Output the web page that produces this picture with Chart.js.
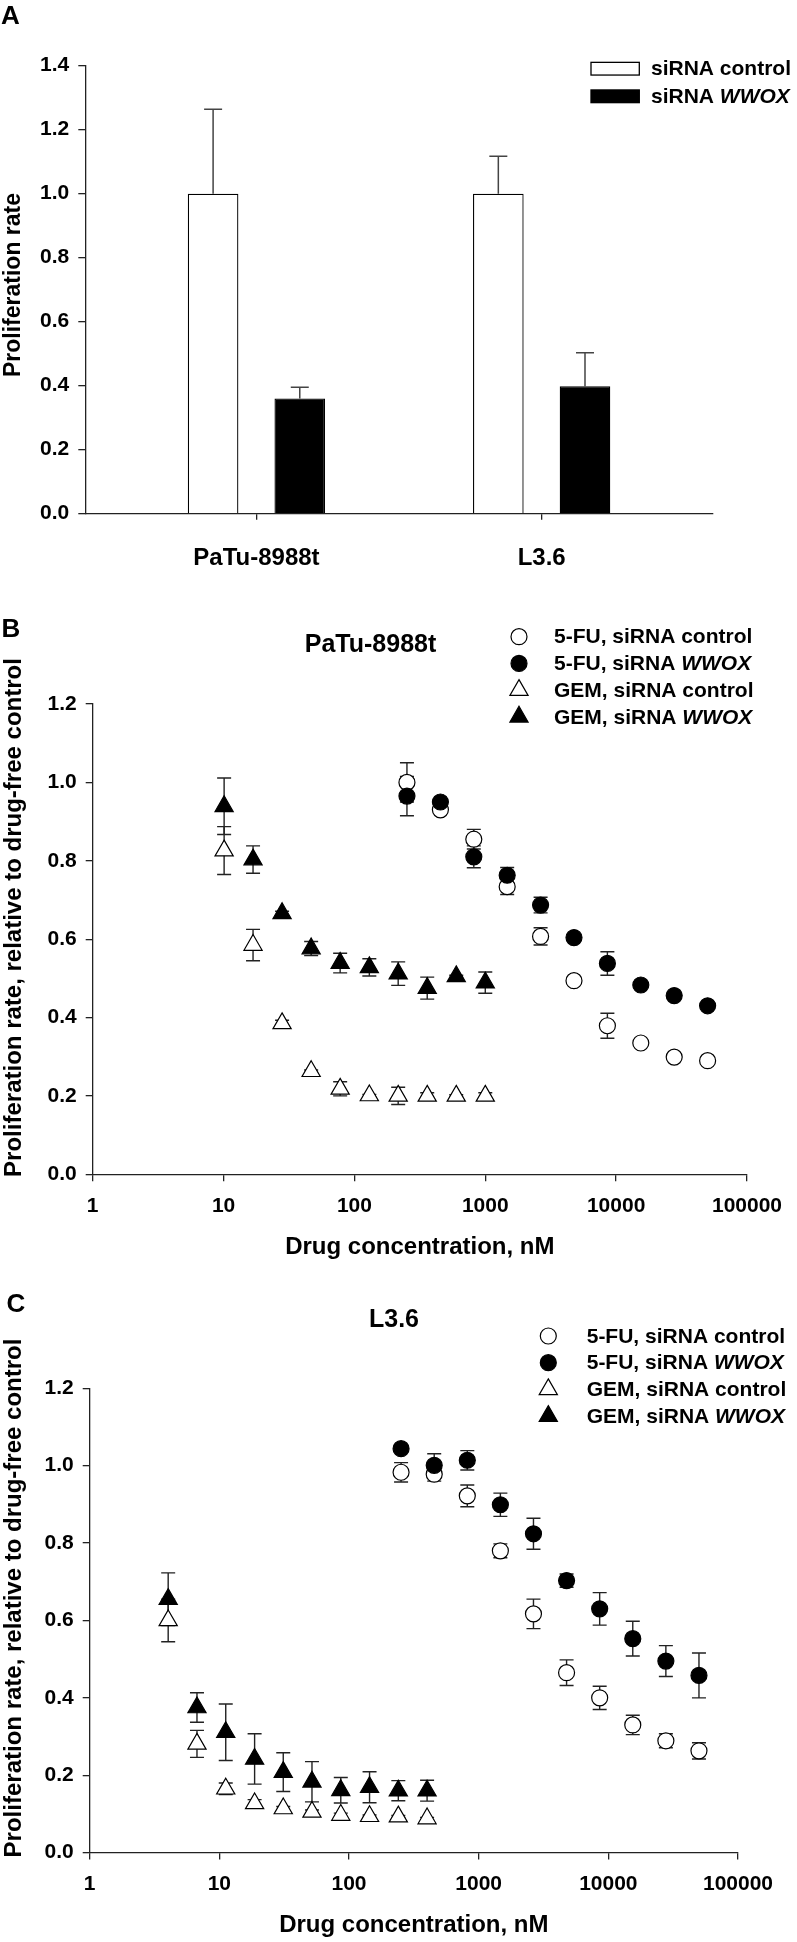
<!DOCTYPE html>
<html>
<head>
<meta charset="utf-8">
<script src="https://cdn.jsdelivr.net/npm/chart.js@4.4.1/dist/chart.umd.min.js"></script>
<style>
	body { margin: 0; background: #fff; width: 797px; height: 1942px; position: relative; overflow: hidden; }
	canvas { position: absolute; left: 0; }
</style>
</head>
<body>
<canvas id="chart-a" width="797" height="575" style="top:0px"></canvas>
<canvas id="chart-b" width="797" height="690" style="top:575px"></canvas>
<canvas id="chart-c" width="797" height="677" style="top:1265px"></canvas>
<script>
// ---- panel A: proliferation rate (bars) ----
const a_categories = ['PaTu-8988t', 'L3.6'];
const a_labels = ['siRNA control', 'siRNA WWOX'];
const a_control = [1.0, 1.0];
const a_control_err = [0.264, 0.117];
const a_wwox = [0.36, 0.398];
const a_wwox_err = [0.035, 0.105];
const a_y_ticks = [0, 0.2, 0.4, 0.6, 0.8, 1.0, 1.2, 1.4];

// ---- panel B: PaTu-8988t dose response ----
const b_fu_conc = [252, 454, 817, 1470, 2646, 4763, 8573, 15432, 27778, 50000];
const b_fu_control = [1.00, 0.93, 0.855, 0.734, 0.607, 0.494, 0.379, 0.335, 0.299, 0.29];
const b_fu_control_err = [0.05, 0.008, 0.025, 0.02, 0.022, 0.005, 0.032, 0.005, 0.005, 0.005];
const b_fu_wwox = [0.965, 0.95, 0.81, 0.763, 0.687, 0.604, 0.538, 0.483, 0.456, 0.43];
const b_fu_wwox_err = [0.05, 0.008, 0.028, 0.02, 0.02, 0.008, 0.03, 0.005, 0.005, 0.005];
const b_gem_conc = [10.1, 16.8, 28, 46.7, 77.8, 130, 216, 360, 600, 1000];
const b_gem_control = [0.826, 0.585, 0.385, 0.263, 0.218, 0.201, 0.2, 0.2, 0.2, 0.2];
const b_gem_control_err = [0.061, 0.04, 0.008, 0.003, 0.018, 0.003, 0.022, 0.008, 0.003, 0.008];
const b_gem_wwox = [0.939, 0.803, 0.666, 0.576, 0.539, 0.528, 0.512, 0.475, 0.505, 0.489];
const b_gem_wwox_err = [0.072, 0.035, 0.005, 0.018, 0.025, 0.022, 0.03, 0.028, 0.003, 0.027];

// ---- panel C: L3.6 dose response ----
const c_fu_conc = [252, 454, 817, 1470, 2646, 4763, 8573, 15432, 27778, 50000];
const c_fu_control = [0.983, 0.978, 0.922, 0.78, 0.617, 0.465, 0.40, 0.33, 0.289, 0.263];
const c_fu_control_err = [0.025, 0.018, 0.028, 0.018, 0.038, 0.033, 0.03, 0.025, 0.018, 0.021];
const c_fu_wwox = [1.044, 1.001, 1.014, 0.899, 0.824, 0.703, 0.63, 0.553, 0.495, 0.458];
const c_fu_wwox_err = [0.008, 0.03, 0.025, 0.03, 0.04, 0.017, 0.042, 0.045, 0.04, 0.058];
const c_gem_conc = [4.03, 6.72, 11.2, 18.7, 31.1, 51.8, 86.4, 144, 240, 400];
const c_gem_control = [0.60, 0.281, 0.165, 0.127, 0.114, 0.105, 0.097, 0.094, 0.093, 0.088];
const c_gem_control_err = [0.055, 0.035, 0.015, 0.01, 0.005, 0.005, 0.005, 0.003, 0.003, 0.003];
const c_gem_wwox = [0.655, 0.375, 0.311, 0.242, 0.208, 0.183, 0.161, 0.169, 0.16, 0.16];
const c_gem_wwox_err = [0.068, 0.038, 0.073, 0.065, 0.05, 0.052, 0.033, 0.04, 0.026, 0.027];

const dose_labels = ['5-FU, siRNA control', '5-FU, siRNA WWOX', 'GEM, siRNA control', 'GEM, siRNA WWOX'];
const dose_y_ticks = [0, 0.2, 0.4, 0.6, 0.8, 1.0, 1.2];
const dose_x_ticks = [1, 10, 100, 1000, 10000, 100000];

const FAMILY = "'Liberation Sans', Arial, Helvetica, sans-serif";
const AXIS = '#222';
Chart.defaults.font.family = FAMILY;
Chart.defaults.color = '#000';

function pts(xs, ys) {
	return xs.map((x, i) => ({ x: x, y: ys[i] }));
}

// draw a label, setting the gene name in italics
function drawRich(ctx, text, x, y, size) {
	const parts = text.split(/(WWOX)/);
	let cx = x;
	parts.forEach(p => {
		if (!p) return;
		ctx.font = (p === 'WWOX' ? 'italic ' : '') + 'bold ' + size + 'px ' + FAMILY;
		ctx.fillText(p, cx, y);
		cx += ctx.measureText(p).width;
	});
}

const errorBars = {
	id: 'errorBars',
	beforeDatasetsDraw(chart, args, opts) {
		const ctx = chart.ctx;
		const yScale = chart.scales.y;
		ctx.save();
		ctx.strokeStyle = opts.color || '#333';
		ctx.lineWidth = opts.width || 1.3;
		const half = (opts.cap || 14) / 2;
		chart.data.datasets.forEach((ds, i) => {
			if (!ds.errors) return;
			const meta = chart.getDatasetMeta(i);
			meta.data.forEach((el, j) => {
				const v = ds.data[j].y;
				const e = ds.errors[j];
				const top = yScale.getPixelForValue(v + e);
				const bottom = yScale.getPixelForValue(opts.upOnly ? v : v - e);
				ctx.beginPath();
				ctx.moveTo(el.x, top);
				ctx.lineTo(el.x, bottom);
				ctx.moveTo(el.x - half, top);
				ctx.lineTo(el.x + half, top);
				if (!opts.upOnly) {
					ctx.moveTo(el.x - half, bottom);
					ctx.lineTo(el.x + half, bottom);
				}
				ctx.stroke();
			});
		});
		ctx.restore();
	}
};

const panelText = {
	id: 'panelText',
	afterDraw(chart, args, opts) {
		const ctx = chart.ctx;
		(opts.items || []).forEach(it => {
			ctx.save();
			ctx.translate(it.x, it.y);
			if (it.rotate) ctx.rotate(it.rotate);
			ctx.font = 'bold ' + it.size + 'px ' + FAMILY;
			ctx.fillStyle = '#000';
			ctx.textAlign = it.align || 'center';
			ctx.textBaseline = it.baseline || 'middle';
			ctx.fillText(it.text, 0, 0);
			ctx.restore();
		});
	}
};

const sideLegend = {
	id: 'sideLegend',
	afterDraw(chart, args, opts) {
		const ctx = chart.ctx;
		chart.data.datasets.forEach((ds, i) => {
			const y = opts.y + i * opts.gap;
			ctx.save();
			ctx.fillStyle = ds.backgroundColor;
			ctx.strokeStyle = ds.borderColor;
			ctx.lineWidth = ds.borderWidth;
			if (opts.box) {
				ctx.fillRect(opts.markerX, y - opts.box[1] / 2, opts.box[0], opts.box[1]);
				ctx.strokeRect(opts.markerX, y - opts.box[1] / 2, opts.box[0], opts.box[1]);
			} else {
				Chart.helpers.drawPoint(ctx, {
					pointStyle: ds.pointStyle,
					radius: ds.pointRadius,
					borderWidth: ds.borderWidth,
					rotation: 0
				}, opts.markerX, y);
			}
			ctx.fillStyle = '#000';
			ctx.textAlign = 'left';
			ctx.textBaseline = 'middle';
			drawRich(ctx, ds.label, opts.textX, y + 1, opts.size);
			ctx.restore();
		});
	}
};

function yAxis(ticks, width) {
	return {
		min: 0,
		max: ticks[ticks.length - 1],
		afterBuildTicks: axis => { axis.ticks = ticks.map(v => ({ value: v })); },
		afterFit: s => { s.width = width; },
		ticks: {
			callback: v => v.toFixed(1),
			font: { size: 21, weight: 'bold' },
			color: '#000',
			padding: 9
		},
		grid: { drawOnChartArea: false, tickLength: 7, color: AXIS, tickColor: AXIS, lineWidth: 1.3 },
		border: { color: AXIS, width: 1.3 }
	};
}

// ---------- Panel A ----------
new Chart(document.getElementById('chart-a'), {
	type: 'bar',
	data: {
		datasets: [
			{
				label: a_labels[0],
				data: a_control.map((v, i) => ({ x: i, y: v })),
				errors: a_control_err,
				backgroundColor: '#fff',
				borderColor: '#000',
				borderWidth: 1.3
			},
			{
				label: a_labels[1],
				data: a_wwox.map((v, i) => ({ x: i, y: v })),
				errors: a_wwox_err,
				backgroundColor: '#000',
				borderColor: '#000',
				borderWidth: 1.3
			}
		]
	},
	options: {
		responsive: false,
		animation: false,
		devicePixelRatio: 1,
		categoryPercentage: 0.6077,
		barPercentage: 0.584,
		layout: { padding: { top: 65.7, right: 84.2, left: 0, bottom: 0 } },
		scales: {
			x: {
				type: 'linear',
				offset: false,
				min: -0.6,
				max: 1.6,
				afterBuildTicks: axis => { axis.ticks = a_categories.map((c, i) => ({ value: i })); },
				afterFit: s => { s.height = 575 - 513.7; },
				ticks: {
					callback: v => a_categories[v],
					font: { size: 24, weight: 'bold' },
					color: '#000',
					padding: 24,
					maxRotation: 0,
					autoSkip: false
				},
				grid: { offset: false, drawOnChartArea: false, tickLength: 6, color: AXIS, tickColor: AXIS, lineWidth: 1.3 },
				border: { color: AXIS, width: 1.3 }
			},
			y: yAxis(a_y_ticks, 85.3)
		},
		plugins: {
			legend: { display: false },
			tooltip: { enabled: false },
			errorBars: { upOnly: true, cap: 18, color: '#444', width: 1.5 },
			sideLegend: { markerX: 591, textX: 651, y: 68.7, gap: 27.6, size: 21, box: [48.3, 12.7] },
			panelText: {
				items: [
					{ text: 'A', x: 1, y: 24, size: 26, align: 'left', baseline: 'alphabetic' },
					{ text: 'Proliferation rate', x: 13.5, y: 285, size: 23, rotate: -Math.PI / 2 }
				]
			}
		}
	},
	plugins: [errorBars, sideLegend, panelText]
});

// ---------- dose response panels ----------
function doseChart(id, cfg) {
	const style = [
		{ pointStyle: 'circle', pointRadius: 8, backgroundColor: '#fff', order: 2 },
		{ pointStyle: 'circle', pointRadius: 8, backgroundColor: '#000', order: 1 },
		{ pointStyle: 'triangle', pointRadius: 10.5, backgroundColor: '#fff', order: 2 },
		{ pointStyle: 'triangle', pointRadius: 10.5, backgroundColor: '#000', order: 1 }
	];
	const datasets = cfg.series.map((s, i) => Object.assign({
		label: dose_labels[i],
		data: pts(s[0], s[1]),
		errors: s[2],
		borderColor: '#000',
		borderWidth: 1.2
	}, style[i]));

	return new Chart(document.getElementById(id), {
		type: 'scatter',
		data: { datasets: datasets },
		options: {
			responsive: false,
			animation: false,
			devicePixelRatio: 1,
			layout: { padding: { top: cfg.top, right: 797 - cfg.right, left: 0, bottom: 0 } },
			scales: {
				x: {
					type: 'logarithmic',
					min: 1,
					max: 100000,
					afterBuildTicks: axis => { axis.ticks = dose_x_ticks.map(v => ({ value: v })); },
					afterFit: s => { s.height = cfg.height - cfg.bottom; },
					ticks: {
						callback: v => String(v),
						font: { size: 21, weight: 'bold' },
						color: '#000',
						padding: 12,
						maxRotation: 0,
						autoSkip: false
					},
					grid: { drawOnChartArea: false, tickLength: 7, color: AXIS, tickColor: AXIS, lineWidth: 1.3 },
					border: { color: AXIS, width: 1.3 },
					title: {
						display: true,
						text: 'Drug concentration, nM',
						font: { size: 24, weight: 'bold' },
						color: '#000',
						padding: { top: 0, bottom: cfg.titlePad }
					}
				},
				y: yAxis(dose_y_ticks, cfg.left)
			},
			plugins: {
				legend: { display: false },
				tooltip: { enabled: false },
				errorBars: { cap: 14, color: '#222', width: 1.4 },
				sideLegend: cfg.legend,
				panelText: { items: cfg.texts }
			}
		},
		plugins: [errorBars, sideLegend, panelText]
	});
}

doseChart('chart-b', {
	height: 690, top: 129, bottom: 599.3, left: 92.7, right: 747, titlePad: 3.6,
	series: [
		[b_fu_conc, b_fu_control, b_fu_control_err],
		[b_fu_conc, b_fu_wwox, b_fu_wwox_err],
		[b_gem_conc, b_gem_control, b_gem_control_err],
		[b_gem_conc, b_gem_wwox, b_gem_wwox_err]
	],
	legend: { markerX: 519, textX: 554, y: 61.7, gap: 26.7, size: 21 },
	texts: [
		{ text: 'B', x: 1.5, y: 62, size: 26, align: 'left', baseline: 'alphabetic' },
		{ text: 'PaTu-8988t', x: 370.5, y: 70, size: 25 },
		{ text: 'Proliferation rate, relative to drug-free control', x: 14, y: 342.5, size: 24, rotate: -Math.PI / 2 }
	]
});

doseChart('chart-c', {
	height: 677, top: 123.3, bottom: 587.6, left: 89.7, right: 738, titlePad: 2.6,
	series: [
		[c_fu_conc, c_fu_control, c_fu_control_err],
		[c_fu_conc, c_fu_wwox, c_fu_wwox_err],
		[c_gem_conc, c_gem_control, c_gem_control_err],
		[c_gem_conc, c_gem_wwox, c_gem_wwox_err]
	],
	legend: { markerX: 548.3, textX: 586.7, y: 71, gap: 26.7, size: 21 },
	texts: [
		{ text: 'C', x: 6.5, y: 46.7, size: 26, align: 'left', baseline: 'alphabetic' },
		{ text: 'L3.6', x: 394, y: 55, size: 25 },
		{ text: 'Proliferation rate, relative to drug-free control', x: 14, y: 333, size: 24, rotate: -Math.PI / 2 }
	]
});
</script>
</body>
</html>
